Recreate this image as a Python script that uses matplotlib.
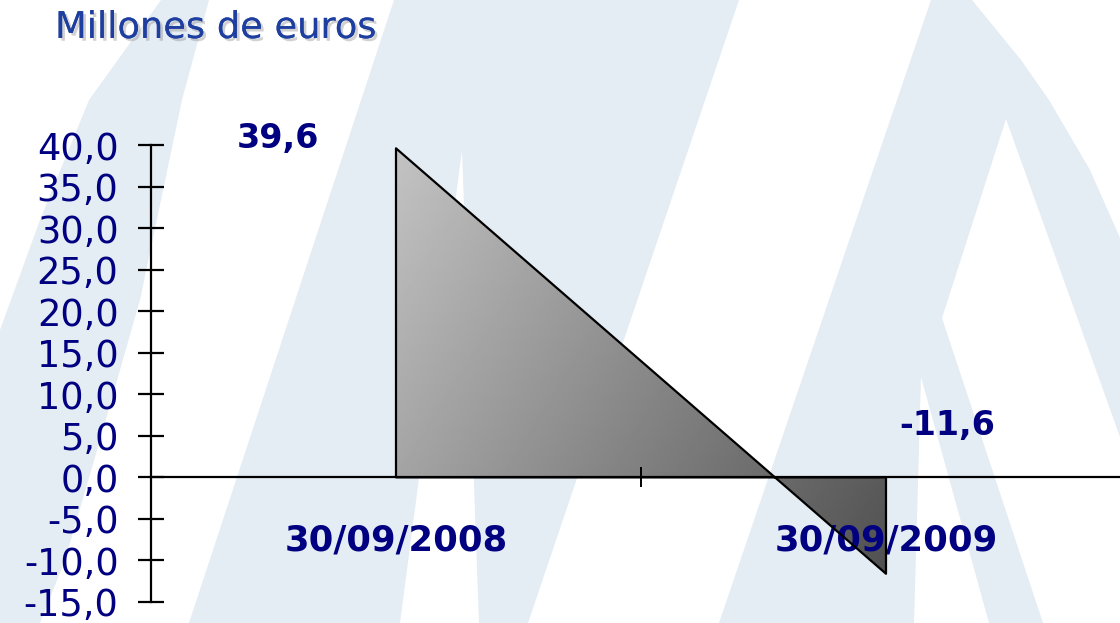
import numpy as np
import matplotlib.pyplot as plt
import matplotlib.patheffects as pe
from matplotlib.patches import Polygon

# Data
categories = ["30/09/2008", "30/09/2009"]
values = [39.6, -11.6]
value_labels = ["39,6", "-11,6"]
y_ticks = [-15, -10, -5, 0, 5, 10, 15, 20, 25, 30, 35, 40]
y_tick_labels = ["-15,0", "-10,0", "-5,0", "0,0", "5,0", "10,0",
                 "15,0", "20,0", "25,0", "30,0", "35,0", "40,0"]
title = "Millones de euros"

navy = "#000080"
wm_color = "#e4ecf4"

fig = plt.figure(figsize=(11.2, 6.23), dpi=100)

# Background watermark (pixel coordinates)
bg = fig.add_axes([0, 0, 1, 1])
bg.set_xlim(0, 1120)
bg.set_ylim(623, 0)
bg.axis("off")

light_shapes = [
    [(161, 0), (209, 0), (182, 100), (140, 300), (100, 440), (65, 560),
     (40, 623), (0, 623), (0, 330), (40, 220), (89, 100)],
    [(394, 0), (739, 0), (528, 623), (479, 623), (462, 150), (400, 623),
     (189, 623)],
    [(931, 0), (972, 0), (1021, 60), (1049, 100), (1090, 170), (1120, 238),
     (1120, 623), (719, 623)],
]
white_shapes = [
    [(1006, 119), (1120, 437), (1120, 623), (1043, 623), (942, 318)],
    [(921, 377), (989, 623), (914, 623)],
]
for s in light_shapes:
    bg.add_patch(Polygon(s, closed=True, facecolor=wm_color, edgecolor="none"))
for s in white_shapes:
    bg.add_patch(Polygon(s, closed=True, facecolor="white", edgecolor="none"))

# Main chart
ax = fig.add_axes([151 / 1120, 1 - 602 / 623, (1131 - 151) / 1120, (602 - 145) / 623])
ax.set_facecolor("none")
ax.set_axisbelow(False)

x = np.arange(len(values))
area = ax.fill_between(x, values, 0, facecolor="none", edgecolor="black",
                       linewidth=1.6, zorder=3)

# diagonal grey gradient inside the area
gx, gy = np.meshgrid(np.linspace(0, 1, 300), np.linspace(0, 1, 300))
shade = 195 - 74 * gx - 40 * gy
im = ax.imshow(shade, cmap="gray", vmin=0, vmax=255, origin="upper",
               extent=[x[0], x[-1], min(values), max(values)],
               aspect="auto", interpolation="bilinear", zorder=2)
im.set_clip_path(area.get_paths()[0], transform=ax.transData)

ax.set_xlim(-0.5, 1.5)
ax.set_ylim(-15, 40)

for side in ["top", "right"]:
    ax.spines[side].set_visible(False)
ax.spines["bottom"].set_position(("data", 0))
ax.spines["left"].set_linewidth(1.6)
ax.spines["bottom"].set_linewidth(1.6)

ax.set_yticks(y_ticks, y_tick_labels)
ax.tick_params(axis="y", direction="inout", length=18.7, width=1.6, pad=14,
               labelsize=26.5, labelcolor=navy)

ax.set_xticks([0.5], [""])
ax.tick_params(axis="x", which="major", direction="inout", length=15, width=1.4)
ax.set_xticks(x, categories, minor=True)
ax.tick_params(axis="x", which="minor", length=0, pad=33, labelsize=25.5,
               labelcolor=navy)
for lab in ax.get_xticklabels(minor=True):
    lab.set_fontweight("bold")

# Data labels
ax.annotate(value_labels[0], (x[0], values[0]), xytext=(-85, 7),
            textcoords="offset points", ha="center", va="center",
            fontsize=24, fontweight="bold", color=navy)
ax.annotate(value_labels[1], (x[1], values[1]), xytext=(44, 107),
            textcoords="offset points", ha="center", va="center",
            fontsize=24, fontweight="bold", color=navy)

fig.text(55 / 1120, 1 - 38 / 623, title, fontsize=26.5, color="#1f3fa0",
         ha="left", va="baseline",
         path_effects=[pe.withSimplePatchShadow(offset=(2, -2),
                                                shadow_rgbFace="#999999",
                                                alpha=0.45),
                       pe.Normal()])

fig.savefig("out.png", dpi=100)
